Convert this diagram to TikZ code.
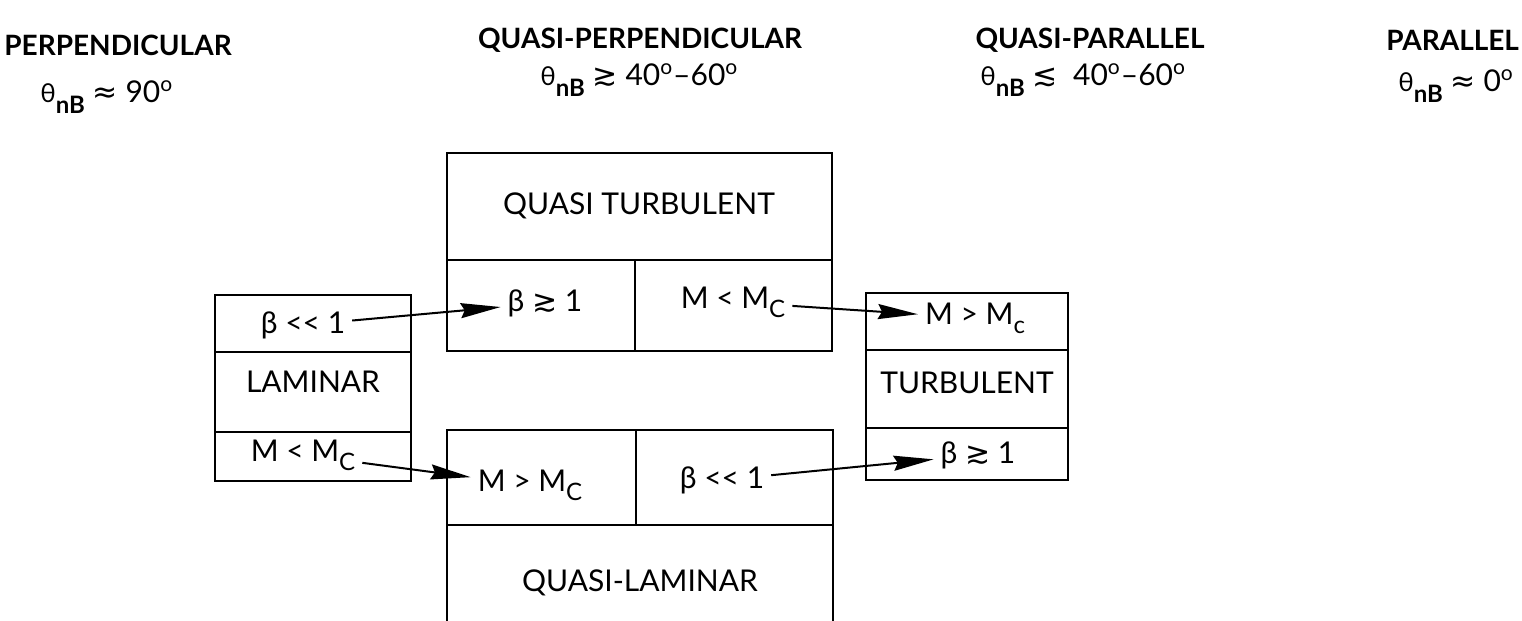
\documentclass[tikz,border=0pt]{standalone}
\usepackage{fontspec}
\setmainfont{Lato}
\newfontfamily\symfont{DejaVu Sans}
\usetikzlibrary{arrows.meta}

\newcommand{\relsym}[1]{{\symfont #1}}
\newcommand{\thnb}{{\fontsize{13}{13}\selectfont θ}\raisebox{-0.75ex}{\bfseries\fontsize{12}{12}\selectfont nB}}
\newcommand{\Msub}[1]{M\raisebox{-0.6ex}{\fontsize{12}{12}\selectfont #1}}
\newcommand{\dg}{\textsuperscript{o}}

\begin{document}
\begin{tikzpicture}[x=0.5pt, y=-0.5pt,
                    hdr/.style={font=\bfseries\fontsize{14}{16}\selectfont, inner sep=0pt},
                    ang/.style={font=\fontsize{15}{17}\selectfont, anchor=west, inner sep=0pt},
                    cell/.style={font=\fontsize{15}{17}\selectfont},
                    frame/.style={line width=1.2pt},
                    flow/.style={line width=1pt, -{Stealth[length=20pt, width=7.5pt, inset=2pt]}}]
                \useasboundingbox (0,0) rectangle (1522,621);
                % regime headings
                \node[hdr] (perp) at (118,45) {PERPENDICULAR};
                \node[ang] (perpA) at (40,97) {\thnb\ \relsym{≈} 90\dg};
                \node[hdr] (qperp) at (640,40) {QUASI-PERPENDICULAR};
                \node[ang] (qperpA) at (540,80) {\thnb\ \relsym{≳} 40\dg–60\dg};
                \node[hdr] (qpar) at (1090,40) {QUASI-PARALLEL};
                \node[ang] (qparA) at (980,80) {\thnb\ \relsym{≲}\ \ 40\dg–60\dg};
                \node[hdr, anchor=west] (par) at (1386,40) {PARALLEL};
                \node[ang] (parA) at (1398,86) {\thnb\ \relsym{≈} 0\dg};
                % boxes
                \draw[frame] (215,295) rectangle (411,481);
                \draw[frame] (215,352) -- (411,352) (215,432) -- (411,432);
                \draw[frame] (447,153) rectangle (832,351);
                \draw[frame] (447,260) -- (832,260) (635,260) -- (635,351);
                \draw[frame] (866,293) rectangle (1068,480);
                \draw[frame] (866,350) -- (1068,350) (866,428) -- (1068,428);
                \draw[frame] (447,640) -- (447,430) -- (833,430) -- (833,640);
                \draw[frame] (447,525) -- (833,525) (636,430) -- (636,525);
                % cell texts
                \node[cell] (lamB) at (303,325) {β <{}< 1};
                \node[cell] (lam) at (313,382) {LAMINAR};
                \node[cell] (lamM) at (303,455) {M < \Msub{C}};
                \node[cell] (qt) at (639,206) {QUASI TURBULENT};
                \node[cell] (qtB) at (545,303) {β \relsym{≳} 1};
                \node[cell] (qtM) at (733,302) {M < \Msub{C}};
                \node[cell] (tuM) at (975,318) {M > \Msub{c}};
                \node[cell] (tu) at (967,383) {TURBULENT};
                \node[cell] (tuB) at (978,455) {β \relsym{≳} 1};
                \node[cell] (qlM) at (530,485) {M > \Msub{C}};
                \node[cell] (qlB) at (722,480) {β <{}< 1};
                \node[cell] (ql) at (640,583) {QUASI-LAMINAR};
                % transitions
                \draw[flow] (lamB) -- (qtB);
                \draw[flow] (qtM) -- (tuM);
                \draw[flow] (lamM) -- (qlM);
                \draw[flow] (qlB) -- (tuB);
            \end{tikzpicture}
\end{document}
